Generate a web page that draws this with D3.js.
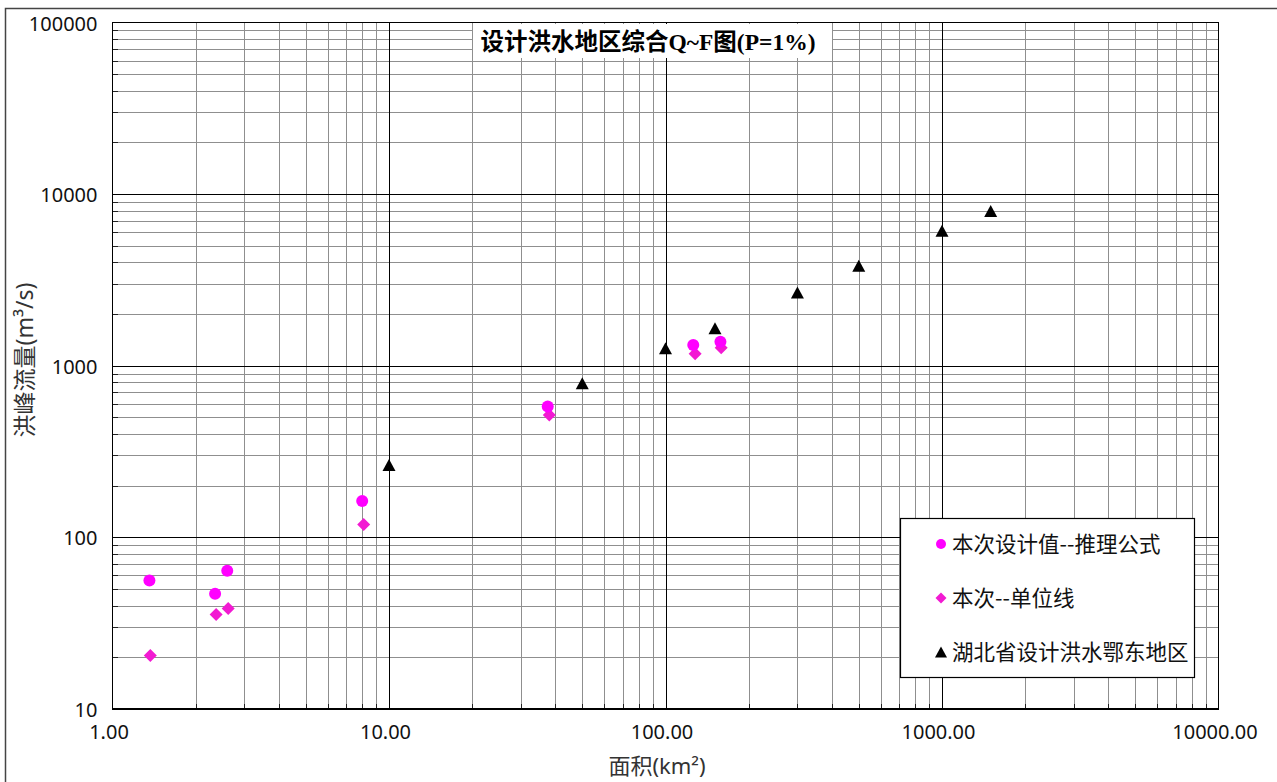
<!DOCTYPE html>
<html>
<head>
<meta charset="utf-8">
<script src="https://cdn.jsdelivr.net/npm/d3@7"></script>
<style>
  body { margin: 0; background: #fff; }
  svg { display: block; }
</style>
</head>
<body>
<svg width="1277" height="782"></svg>
<script>
// 本次设计值--推理公式
const circF = [1.36, 2.35, 2.6, 8.0, 37.5, 126, 158];
const circQ = [56, 47, 64, 163, 578, 1320, 1380];
// 本次--单位线
const diaF = [1.37, 2.37, 2.62, 8.1, 38, 128, 159];
const diaQ = [20.5, 35.5, 38.5, 119, 516, 1175, 1275];
// 湖北省设计洪水鄂东地区
const triF = [10, 50, 100, 151, 300, 500, 1000, 1500];
const triQ = [264, 790, 1265, 1655, 2670, 3820, 6110, 7980];

const xTicks = [1, 10, 100, 1000, 10000];
const yTicks = [10, 100, 1000, 10000, 100000];
const legendNames = ["本次设计值--推理公式", "本次--单位线", "湖北省设计洪水鄂东地区"];

const svg = d3.select("svg");
const plotL = 112.5, plotR = 1218.5, plotT = 22.5, plotB = 709;

const x = d3.scaleLog().domain([1, 10000]).range([plotL, plotR]);
const y = d3.scaleLog().domain([10, 100000]).range([plotB, plotT]);

// 外框
svg.append("rect")
  .attr("x", 5.5).attr("y", 8.5)
  .attr("width", 1290).attr("height", 800)
  .attr("fill", "none").attr("stroke", "#444").attr("stroke-width", 1.5);

// 次网格
const minorX = [];
for (let k = 0; k < 4; k++) for (let m = 2; m <= 9; m++) minorX.push(m * Math.pow(10, k));
const minorY = [];
for (let k = 1; k < 5; k++) for (let m = 2; m <= 9; m++) minorY.push(m * Math.pow(10, k));

const px = (d) => Math.round(x(d)) + 0.5;
const py = (d) => Math.round(y(d)) + 0.5;

const grid = svg.append("g").attr("shape-rendering", "crispEdges");
grid.selectAll(".vx").data(minorX).join("line")
  .attr("x1", px).attr("x2", px)
  .attr("y1", plotT).attr("y2", plotB)
  .attr("stroke", "#8f8f8f");
grid.selectAll(".hy").data(minorY).join("line")
  .attr("y1", py).attr("y2", py)
  .attr("x1", plotL).attr("x2", plotR)
  .attr("stroke", "#8f8f8f");

// 次刻度（内向）
grid.selectAll(".tx").data(minorX).join("line")
  .attr("x1", px).attr("x2", px)
  .attr("y1", plotB - 5).attr("y2", plotB)
  .attr("stroke", "#222");
grid.selectAll(".ty").data(minorY).join("line")
  .attr("y1", py).attr("y2", py)
  .attr("x1", plotL).attr("x2", plotL + 5)
  .attr("stroke", "#222");

// 主网格
grid.selectAll(".mx").data(xTicks.slice(1, -1)).join("line")
  .attr("x1", px).attr("x2", px)
  .attr("y1", plotT).attr("y2", plotB)
  .attr("stroke", "#000");
grid.selectAll(".my").data(yTicks.slice(1, -1)).join("line")
  .attr("y1", py).attr("y2", py)
  .attr("x1", plotL).attr("x2", plotR)
  .attr("stroke", "#000");

// 绘图区边框
grid.append("rect")
  .attr("x", plotL).attr("y", plotT)
  .attr("width", plotR - plotL).attr("height", plotB - plotT)
  .attr("fill", "none").attr("stroke", "#000").attr("stroke-width", 1.5);

// 坐标轴标签
const yAxis = svg.append("g")
  .attr("transform", `translate(${plotL},0)`)
  .call(d3.axisLeft(y).tickValues(yTicks).tickFormat(d3.format("d")).tickSize(0).tickPadding(15));
yAxis.select(".domain").remove();
yAxis.selectAll("text")
  .attr("font-family", "'Noto Sans', sans-serif")
  .attr("font-size", 20)
  .attr("fill", "#111")
  .attr("dy", "0.38em");

const xAxis = svg.append("g")
  .attr("transform", `translate(0,${plotB})`)
  .call(d3.axisBottom(x).tickValues(xTicks).tickFormat(d3.format(".2f")).tickSize(0).tickPadding(16));
xAxis.select(".domain").remove();
xAxis.selectAll("text")
  .attr("font-family", "'Noto Sans', sans-serif")
  .attr("font-size", 20)
  .attr("fill", "#111")
  .attr("dx", -4)
  .attr("dy", "0.71em");

// 轴标题
svg.append("text")
  .attr("transform", "translate(33,360) rotate(-90)")
  .attr("text-anchor", "middle")
  .attr("font-family", "'Noto Sans', 'Noto Sans CJK SC', sans-serif")
  .attr("font-size", 23)
  .attr("fill", "#333")
  .text("洪峰流量(m³/s)");

svg.append("text")
  .attr("x", 657).attr("y", 774)
  .attr("text-anchor", "middle")
  .attr("font-family", "'Noto Sans', 'Noto Sans CJK SC', sans-serif")
  .attr("font-size", 22)
  .attr("fill", "#333")
  .text("面积(km²)");

// 图标题
svg.append("rect")
  .attr("x", 473).attr("y", 24).attr("width", 359).attr("height", 34)
  .attr("fill", "#fff");
svg.append("text")
  .attr("x", 648).attr("y", 50)
  .attr("text-anchor", "middle")
  .attr("font-family", "'Liberation Serif', 'Noto Sans CJK SC', serif")
  .attr("font-weight", "bold")
  .attr("font-size", 23.5)
  .attr("fill", "#000")
  .text("设计洪水地区综合Q~F图(P=1%)");

// 标记形状
const triPath = (w, h) => `M0,${-h / 2}L${w / 2},${h / 2}L${-w / 2},${h / 2}Z`;
const diaPath = (r) => `M0,${-r}L${r},0L0,${r}L${-r},0Z`;

const marks = svg.append("g");
marks.selectAll(".tri").data(triF.map((f, i) => [f, triQ[i]])).join("path")
  .attr("d", triPath(13, 12))
  .attr("transform", (d) => `translate(${x(d[0])},${y(d[1])})`)
  .attr("fill", "#000");
marks.selectAll(".dia").data(diaF.map((f, i) => [f, diaQ[i]])).join("path")
  .attr("d", diaPath(6.5))
  .attr("transform", (d) => `translate(${x(d[0])},${y(d[1])})`)
  .attr("fill", "#f21ad2");
marks.selectAll(".cir").data(circF.map((f, i) => [f, circQ[i]])).join("circle")
  .attr("cx", (d) => x(d[0])).attr("cy", (d) => y(d[1]))
  .attr("r", 6)
  .attr("fill", "#ff00ff");

// 图例
const legend = svg.append("g");
legend.append("rect")
  .attr("x", 900.5).attr("y", 518.5).attr("width", 294).attr("height", 159)
  .attr("fill", "#fff").attr("stroke", "#000").attr("stroke-width", 1.2);

const rowY = [544, 598, 652];
legendNames.forEach((name, i) => {
  const g = legend.append("g").attr("transform", `translate(941,${rowY[i]})`);
  if (i === 0) g.append("circle").attr("r", 5).attr("fill", "#ff00ff");
  if (i === 1) g.append("path").attr("d", diaPath(5.5)).attr("fill", "#f21ad2");
  if (i === 2) g.append("path").attr("d", triPath(12, 11)).attr("fill", "#000");
  g.append("text")
    .attr("x", 11).attr("y", 0).attr("dy", "0.36em")
    .attr("font-family", "'Noto Sans CJK SC', sans-serif")
    .attr("font-size", 21.5)
    .attr("fill", "#111")
    .text(name);
});
</script>
</body>
</html>
